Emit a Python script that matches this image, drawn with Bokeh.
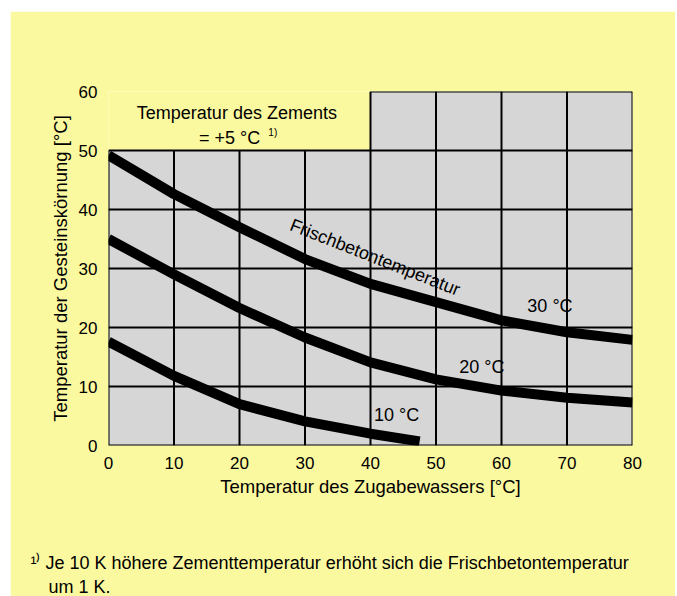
from bokeh.plotting import figure
from bokeh.models import Range1d, FixedTicker, Spacer, Title
from bokeh.layouts import column, row
from bokeh.core.properties import value
from bokeh.embed import file_html
from bokeh.resources import INLINE

# ---- data ----
x_ticks = [0, 10, 20, 30, 40, 50, 60, 70, 80]
y_ticks = [0, 10, 20, 30, 40, 50, 60]

# grey chart panels (lower full panel, upper right panel)
panel_left = [0, 40]
panel_right = [80, 80]
panel_bottom = [0, 50]
panel_top = [50, 60]

x_water = [0, 10, 20, 30, 40, 50, 60, 70, 80]
fresh_30 = [49.2, 42.6, 37.0, 31.6, 27.4, 24.3, 21.2, 19.2, 17.9]
fresh_20 = [35.0, 29.0, 23.3, 18.3, 14.1, 11.2, 9.3, 8.1, 7.3]
x_water_10 = [0, 10, 20, 30, 40, 47.5]
fresh_10 = [17.6, 11.8, 7.0, 4.1, 2.0, 0.7]

curve_labels = ["30 °C", "20 °C", "10 °C"]
curve_label_x = [67.4, 57.0, 44.0]
curve_label_y = [23.6, 13.3, 5.1]

footnote_lines = ["¹⁾ Je 10 K höhere Zementtemperatur erhöht sich die Frischbetontemperatur",
                  "um 1 K."]

FONT = "Liberation Sans"
YELLOW = "#FBF99F"
GREY = "#D6D6D6"

p = figure(width=665, height=585, output_backend="svg", toolbar_location=None,
           x_range=Range1d(0, 80), y_range=Range1d(0, 60),
           min_border_left=98, min_border_right=43, min_border_top=80, min_border_bottom=150)
p.background_fill_color = YELLOW
p.border_fill_color = YELLOW
p.outline_line_color = None
p.xgrid.visible = False
p.ygrid.visible = False

# grey panels
p.quad(left=panel_left, right=panel_right, bottom=panel_bottom, top=panel_top,
       fill_color=GREY, line_color=None)

# grid lines drawn only inside the panels
vx0, vy0, vx1, vy1 = [], [], [], []
for xt in x_ticks:
    top = max(t for l, r, t in zip(panel_left, panel_right, panel_top) if l <= xt <= r)
    vx0.append(xt); vx1.append(xt); vy0.append(0); vy1.append(top)
for yt in y_ticks:
    lefts = [l for l, b, t in zip(panel_left, panel_bottom, panel_top) if b <= yt <= t]
    vx0.append(min(lefts)); vx1.append(max(panel_right)); vy0.append(yt); vy1.append(yt)
p.segment(x0=vx0, y0=vy0, x1=vx1, y1=vy1, line_color="black", line_width=2)

# curves
for xs, ys in [(x_water, fresh_30), (x_water, fresh_20), (x_water_10, fresh_10)]:
    p.line(xs, ys, line_color="black", line_width=10, line_join="round", line_cap="butt")

# curve labels
p.text(x=curve_label_x, y=curve_label_y, text=curve_labels, text_font=value(FONT),
       text_font_size="18px", text_align="center", text_baseline="middle", text_color="black")

p.text(x=[40.7], y=[31.9], text=["Frischbetontemperatur"], angle=-0.375,
       text_font=value(FONT), text_font_size="18px", text_align="center",
       text_baseline="middle", text_color="black")

# cement temperature note
p.text(x=[19.6], y=[56.4], text=["Temperatur des Zements"], text_font=value(FONT),
       text_font_size="18px", text_align="center", text_baseline="alphabetic")
p.text(x=[18.5], y=[52.2], text=["= +5 °C"], text_font=value(FONT),
       text_font_size="18px", text_align="center", text_baseline="alphabetic")
p.text(x=[24.4], y=[53.0], text=["1)"], text_font=value(FONT),
       text_font_size="10px", text_align="left", text_baseline="alphabetic")

# axes
p.xaxis.ticker = FixedTicker(ticks=x_ticks)
p.yaxis.ticker = FixedTicker(ticks=y_ticks)
for ax in (p.xaxis[0], p.yaxis[0]):
    ax.axis_line_color = None
    ax.major_tick_line_color = None
    ax.minor_tick_line_color = None
    ax.major_label_text_font = FONT
    ax.major_label_text_font_size = "17px"
    ax.major_label_text_color = "black"
    ax.axis_label_text_font = FONT
    ax.axis_label_text_font_size = "18.5px"
    ax.axis_label_text_font_style = "normal"
    ax.axis_label_text_color = "black"
p.xaxis.axis_label = "Temperatur des Zugabewassers [°C]"
p.yaxis.axis_label = "Temperatur der Gesteinskörnung [°C]"
p.xaxis.major_label_standoff = 5
p.xaxis.axis_label_standoff = 4
p.yaxis.major_label_standoff = 5
p.yaxis.axis_label_standoff = 5

# footnote as titles below the x axis (leading blank lines give the gap above it)
t1 = Title(text="\n\n" + footnote_lines[0], align="left", offset=-78, standoff=2,
           text_line_height=1.28,
           text_font=FONT, text_font_size="18px", text_font_style="normal", text_color="black")
t2 = Title(text=footnote_lines[1], align="left", offset=-60, standoff=0,
           text_font=FONT, text_font_size="18px", text_font_style="normal", text_color="black")
p.add_layout(t1, "below")
p.add_layout(t2, "below")

layout = column(Spacer(height=11), row(Spacer(width=10), p))
open("out.html", "w").write(file_html(layout, INLINE))
